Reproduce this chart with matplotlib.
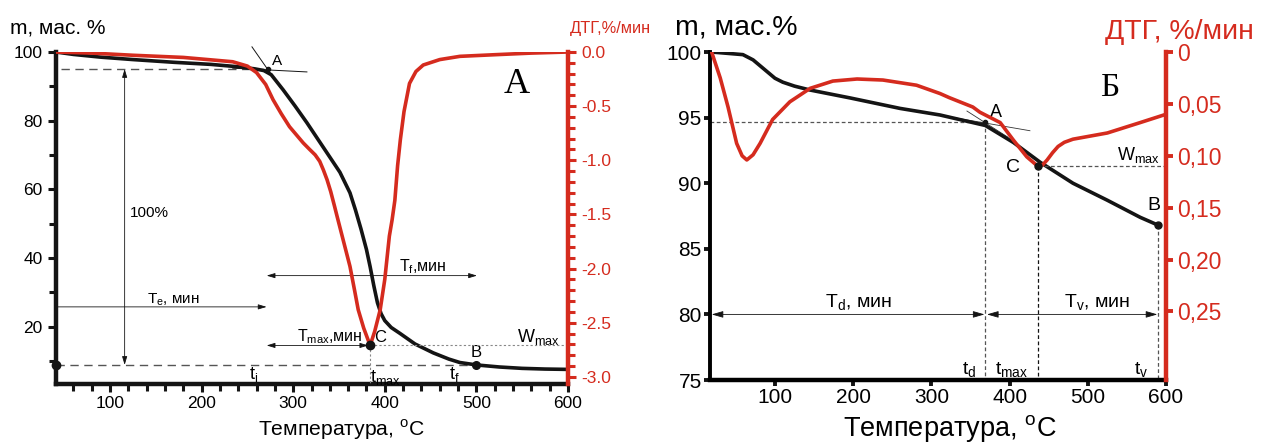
import matplotlib
matplotlib.use('Agg')
import matplotlib.pyplot as plt
from matplotlib.ticker import MultipleLocator, FixedLocator, FixedFormatter

plt.rcParams['font.family'] = ['Liberation Sans', 'DejaVu Sans']
plt.rcParams['mathtext.fontset'] = 'custom'
plt.rcParams['mathtext.rm'] = 'Liberation Sans'

RED = '#d52b1e'
BLACK = '#141414'
GRAY = '#555555'

# ---- панель А: ТГ (масса, %) ----
temp_a_tg = [41, 60, 90, 125, 170, 210, 240, 258, 268, 276, 289, 302, 315, 328,
             340, 351, 362, 368, 374, 380, 384, 388, 392, 396, 400, 407, 417,
             433, 453, 470, 482, 500, 525, 550, 575, 600]
mass_a = [100.0, 99.3, 98.5, 97.8, 97.0, 96.4, 95.7, 95.1, 94.6, 93.4, 89.0,
          84.3, 79.4, 74.2, 69.4, 65.0, 59.0, 54.0, 48.5, 42.5, 37.5, 32.0,
          27.0, 23.8, 21.8, 19.8, 18.0, 15.0, 12.4, 10.6, 9.6, 8.9, 8.3, 7.9,
          7.7, 7.6]

# ---- панель А: ДТГ, %/мин ----
temp_a_dtg = [41, 80, 125, 180, 234, 250, 260, 270, 278, 287, 296, 300, 305,
              311, 318, 324, 329, 333, 337, 341, 345, 348, 355, 362, 367, 371,
              377, 384, 389, 395, 400, 405, 408, 411, 414, 417, 421, 427, 434,
              442, 460, 482, 520, 560, 600]
dtg_a = [0.0, -0.01, -0.03, -0.05, -0.09, -0.13, -0.19, -0.30, -0.44, -0.57,
         -0.69, -0.73, -0.78, -0.84, -0.90, -0.95, -1.01, -1.09, -1.18, -1.29,
         -1.42, -1.52, -1.75, -1.98, -2.20, -2.38, -2.55, -2.71, -2.58, -2.38,
         -2.10, -1.70, -1.55, -1.37, -1.05, -0.81, -0.55, -0.29, -0.18, -0.12,
         -0.07, -0.04, -0.025, -0.01, 0.0]

# характерные точки панели А
a_point = (272, 95.05)
b_point = (500, 8.9)
c_point = (384, -2.71)
te_level, tf_level = 25.8, 34.9
t_start = 271
arrow100_x = 116

# ---- панель Б: ТГ ----
temp_b_tg = [19, 59, 72, 80, 90, 100, 110, 125, 145, 196, 260, 311, 340, 369,
             405, 439, 481, 525, 567, 590]
mass_b = [100.0, 99.8, 99.4, 99.0, 98.5, 98.0, 97.7, 97.4, 97.1, 96.5, 95.7,
          95.2, 94.8, 94.4, 93.1, 91.6, 90.0, 88.7, 87.4, 86.8]

# ---- панель Б: ДТГ ----
temp_b_dtg = [19, 30, 40, 51, 58, 64, 72, 81, 97, 119, 145, 174, 205, 238, 281,
              311, 323, 353, 362, 388, 405, 422, 436, 442, 448, 455, 462, 470,
              481, 525, 567, 600]
dtg_b = [0.0, 0.025, 0.053, 0.088, 0.100, 0.104, 0.099, 0.088, 0.065, 0.048,
         0.035, 0.028, 0.026, 0.027, 0.032, 0.040, 0.044, 0.053, 0.058, 0.068,
         0.085, 0.101, 0.110, 0.109, 0.104, 0.097, 0.091, 0.087, 0.084, 0.078,
         0.068, 0.060]

ab_point = (369, 94.65)
bb_point = (590, 86.8)
cb_point = (436, 0.110)
cb_mass = 91.3
tb_level = 80

fig = plt.figure(figsize=(12.63, 4.43), dpi=100)
fig.patch.set_facecolor('white')

# ================= панель А =================
ax = fig.add_axes([0.0443, 0.1332, 0.4054, 0.7494])
ax2 = ax.twinx()

ax.plot(temp_a_tg, mass_a, color=BLACK, lw=2.6, solid_capstyle='round',
        solid_joinstyle='round', zorder=3)
ax2.plot(temp_a_dtg, dtg_a, color=RED, lw=2.6, solid_capstyle='round',
         solid_joinstyle='round', zorder=3)

ax.set_xlim(41, 600)
ax.set_ylim(3.35, 100)
ax2.set_ylim(-3.066, 0)

ax.xaxis.set_major_locator(MultipleLocator(100))
ax.xaxis.set_minor_locator(MultipleLocator(20))
ax.yaxis.set_major_locator(FixedLocator([20, 40, 60, 80, 100]))
ax.yaxis.set_minor_locator(MultipleLocator(10))
ax2.yaxis.set_major_locator(MultipleLocator(0.5))
ax2.yaxis.set_minor_locator(MultipleLocator(0.1))
ax2.yaxis.set_major_formatter(matplotlib.ticker.FuncFormatter(
    lambda v, p: '%.1f' % v if abs(v) > 1e-9 else '0.0'))

for s in ['top', 'right']:
    ax.spines[s].set_visible(False)
for s in ['top', 'left', 'bottom']:
    ax2.spines[s].set_visible(False)
ax.spines['left'].set_linewidth(3.2)
ax.spines['bottom'].set_linewidth(3.2)
ax.spines['left'].set_color(BLACK)
ax.spines['bottom'].set_color(BLACK)
ax2.spines['right'].set_linewidth(3.2)
ax2.spines['right'].set_color(RED)

ax.tick_params(which='major', direction='out', width=2.2, length=6, labelsize=12.5, color=BLACK)
ax.tick_params(which='minor', direction='out', width=2.2, length=5, color=BLACK)
ax.tick_params(axis='x', pad=3)
ax2.tick_params(which='major', direction='out', width=2.2, length=6, labelsize=12.5,
                color=RED, labelcolor=RED)
ax2.tick_params(which='minor', direction='out', width=2.2, length=5, color=RED)

# вспомогательные линии
ax.plot([46, a_point[0]], [a_point[1], a_point[1]], color=GRAY, lw=1, ls=(0, (6, 4)))
ax.plot([41, b_point[0]], [b_point[1], b_point[1]], color=GRAY, lw=1, ls=(0, (6, 4)))
ax.plot([41], [b_point[1]], 'o', color=BLACK, ms=6, clip_on=False, zorder=5)
ax.plot([b_point[0]], [b_point[1]], 'o', color=BLACK, ms=5.5, zorder=5)
ax.plot([234, 315], [95.3, 94.2], color=BLACK, lw=0.7)
ax.plot([255, 285.6], [101.5, 89.8], color=BLACK, lw=0.7, clip_on=False)
ax.plot([a_point[0]], [a_point[1]], 'o', color=BLACK, ms=3, zorder=5)

ax2.plot([c_point[0], 600], [c_point[1], c_point[1]], color='#888888', lw=0.8, ls=(0, (2, 2)))
ax2.plot([c_point[0], c_point[0]], [c_point[1], -3.066], color='#888888', lw=0.8, ls=(0, (2, 2)))
ax2.plot([c_point[0]], [c_point[1]], 'o', color=BLACK, ms=6, zorder=6)

arrow_kw = dict(lw=0.6, color=BLACK, shrinkA=0, shrinkB=0)
ax.annotate('', xy=(arrow100_x, a_point[1]), xytext=(arrow100_x, b_point[1]),
            arrowprops=dict(arrowstyle='<|-|>,head_length=0.5,head_width=0.15', **arrow_kw))
ax.annotate('', xy=(t_start, te_level), xytext=(41, te_level),
            arrowprops=dict(arrowstyle='-|>,head_length=0.5,head_width=0.15', **arrow_kw))
ax.annotate('', xy=(500.7, tf_level), xytext=(t_start, tf_level),
            arrowprops=dict(arrowstyle='<|-|>,head_length=0.5,head_width=0.15', **arrow_kw))
ax2.annotate('', xy=(c_point[0] - 2, c_point[1]), xytext=(t_start, c_point[1]),
             arrowprops=dict(arrowstyle='<|-|>,head_length=0.5,head_width=0.15', **arrow_kw))

ax.text(122, 53.1, '100%', fontsize=11, va='center', ha='left')
ax.text(169, 27.8, r'T$_\mathregular{e}$, мин', fontsize=11, va='center', ha='center')
ax.text(441, 37.4, r'T$_\mathregular{f}$,мин', fontsize=11.5, va='center', ha='center')
ax.text(340, 17.0, r'T$_\mathregular{max}$,мин', fontsize=11.5, va='center', ha='center')
ax.text(568, 17.0, r'W$_\mathregular{max}$', fontsize=13, va='center', ha='center')
ax.text(388, 17.0, 'C', fontsize=12, va='center', ha='left')
ax.text(500, 12.6, 'B', fontsize=12, va='center', ha='center')
ax.text(277, 97.3, 'A', fontsize=11, va='center', ha='left')
ax.text(257, 6.0, r't$_\mathregular{i}$', fontsize=13, va='center', ha='center')
ax.text(384, 5.2, r't$_\mathregular{max}$', fontsize=13, va='center', ha='left')
ax.text(476, 6.0, r't$_\mathregular{f}$', fontsize=13, va='center', ha='center')
ax.text(544, 90.4, 'А', fontsize=26, family='Liberation Serif', va='center', ha='center')

fig.text(10 / 1263, 1 - 28 / 443, 'm, мас. %', fontsize=15, va='center', ha='left')
fig.text(570 / 1263, 1 - 28 / 443, 'ДТГ,%/мин', fontsize=11.8, va='center', ha='left', color=RED)
fig.text(341 / 1263, 1 - 430 / 443, r'Температура, $^\mathregular{o}$C', fontsize=15.2,
         va='center', ha='center')

# ================= панель Б =================
bx = fig.add_axes([0.5622, 0.1422, 0.3610, 0.7404])
bx2 = bx.twinx()

bx.plot(temp_b_tg, mass_b, color=BLACK, lw=2.6, solid_capstyle='round',
        solid_joinstyle='round', zorder=3)
bx2.plot(temp_b_dtg, dtg_b, color=RED, lw=2.6, solid_capstyle='round',
         solid_joinstyle='round', zorder=3)

bx.set_xlim(17, 600)
bx.set_ylim(75, 100)
bx2.set_ylim(0.316, 0)

bx.xaxis.set_major_locator(MultipleLocator(100))
bx.yaxis.set_major_locator(MultipleLocator(5))
dtg_ticks = [0, 0.05, 0.10, 0.15, 0.20, 0.25]
bx2.yaxis.set_major_locator(FixedLocator(dtg_ticks))
bx2.yaxis.set_major_formatter(FixedFormatter(['0', '0,05', '0,10', '0,15', '0,20', '0,25']))

for s in ['top', 'right']:
    bx.spines[s].set_visible(False)
for s in ['top', 'left', 'bottom']:
    bx2.spines[s].set_visible(False)
bx.spines['left'].set_linewidth(2.8)
bx.spines['bottom'].set_linewidth(3.2)
bx2.spines['right'].set_linewidth(3.2)
bx2.spines['right'].set_color(RED)

bx.tick_params(direction='out', width=2.8, length=4, labelsize=15, color=BLACK, pad=2)
bx2.tick_params(direction='out', width=2.8, length=5, labelsize=16.5, color=RED,
                labelcolor=RED, pad=3)

bx.plot([17, ab_point[0]], [ab_point[1], ab_point[1]], color=GRAY, lw=0.9, ls=(0, (3, 2)))
bx.plot([ab_point[0], ab_point[0]], [ab_point[1], 75], color=GRAY, lw=0.9, ls=(0, (3, 2)))
bx.plot([cb_point[0], cb_point[0]], [cb_mass, 75], color=BLACK, lw=0.9, ls=(0, (3, 2)))
bx.plot([bb_point[0], bb_point[0]], [bb_point[1], 75], color=GRAY, lw=0.9, ls=(0, (3, 2)))
bx2.plot([cb_point[0], 600], [cb_point[1], cb_point[1]], color=GRAY, lw=0.9, ls=(0, (3, 2)))
bx.plot([323.8, 426], [95.05, 94.0], color='#333333', lw=0.6)
bx.plot([345.5, 398], [95.5, 93.5], color='#333333', lw=0.6)
bx.plot([ab_point[0]], [ab_point[1]], 'o', color=BLACK, ms=3, zorder=5)
bx.plot([bb_point[0]], [bb_point[1]], 'o', color=BLACK, ms=5, zorder=5)
bx2.plot([cb_point[0]], [cb_point[1]], 'o', color=BLACK, ms=5, zorder=6)

bx.annotate('', xy=(19, tb_level), xytext=(ab_point[0] - 1, tb_level),
            arrowprops=dict(arrowstyle='<|-|>,head_length=0.7,head_width=0.2', **arrow_kw))
bx.annotate('', xy=(ab_point[0] + 2, tb_level), xytext=(bb_point[0] - 1, tb_level),
            arrowprops=dict(arrowstyle='<|-|>,head_length=0.7,head_width=0.2', **arrow_kw))

bx.text(207, 80.9, r'T$_\mathregular{d}$, мин', fontsize=14, va='center', ha='center')
bx.text(512, 80.9, r'T$_\mathregular{v}$, мин', fontsize=14, va='center', ha='center')
bx.text(348, 75.7, r't$_\mathregular{d}$', fontsize=14, va='center', ha='center')
bx.text(381, 75.7, r't$_\mathregular{max}$', fontsize=14, va='center', ha='left')
bx.text(568, 75.7, r't$_\mathregular{v}$', fontsize=14, va='center', ha='center')
bx.text(382.6, 95.4, 'A', fontsize=13, va='center', ha='center')
bx.text(404, 91.2, 'C', fontsize=14, va='center', ha='center')
bx.text(584.7, 88.3, 'B', fontsize=14, va='center', ha='center')
bx.text(537, 92.15, r'W$_\mathregular{max}$', fontsize=13, va='center', ha='left')
bx.text(528, 97.3, 'Б', fontsize=24, family='Liberation Serif', va='center', ha='center')

fig.text(675 / 1263, 1 - 28 / 443, 'm, мас.%', fontsize=20.5, va='center', ha='left')
fig.text(1105 / 1263, 1 - 32 / 443, 'ДТГ, %/мин', fontsize=20.5, va='center', ha='left', color=RED)
fig.text(950 / 1263, 1 - 428 / 443, r'Температура, $^\mathregular{o}$C', fontsize=19.5,
         va='center', ha='center')

fig.savefig('out.png', dpi=100)
